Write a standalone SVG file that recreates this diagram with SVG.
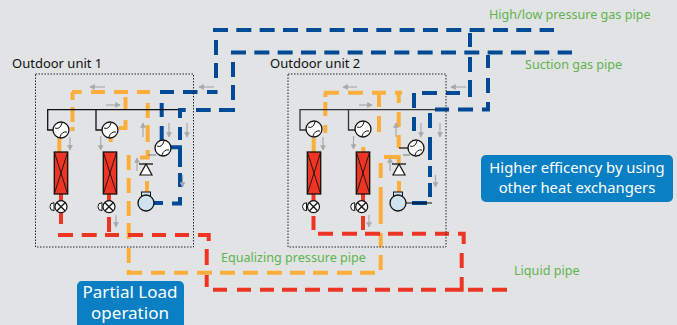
<svg xmlns="http://www.w3.org/2000/svg" width="677" height="325" viewBox="0 0 677 325">
<style>
text{font-family:"Noto Sans","Open Sans",sans-serif}
.g{fill:#5fb34f;font-size:12.6px}
.k{fill:#111;font-size:13px}
.w{fill:#fff;text-anchor:middle}
.box{fill:none;stroke:#222;stroke-width:1;stroke-dasharray:1.5 1.5}
.p{fill:none;stroke-width:4;stroke-linejoin:miter}
.b{stroke:#004a97}
.y{stroke:#fbae3a}
.r{stroke:#ee3524}
.dash{stroke-dasharray:15 8.33}
.ln{fill:none;stroke:#111;stroke-width:1.3}
.ar{fill:none;stroke:#a9a9a9;stroke-width:1.2}
.hx{fill:#ee3524;stroke:#111;stroke-width:1.3}
</style>
<defs>
<marker id="ah" markerWidth="5" markerHeight="5" refX="4" refY="2.5" orient="auto"><path d="M0 0L4.5 2.5L0 5z" fill="#a9a9a9"/></marker>
<g id="ball"><circle r="8" fill="#fff" stroke="#111" stroke-width="1.3"/><path d="M-6 -2Q-1 0 1 -7M-1 7Q1 1 6 2" fill="none" stroke="#111" stroke-width="1"/></g>
<g id="valve"><path d="M-7 -4A4 4 0 0 0 -7 4z" fill="#fff" stroke="#111"/><circle r="6" fill="#fff" stroke="#111" stroke-width="1.2"/><path d="M-4 -4L4 4M-4 4L4 -4" stroke="#111" stroke-width="1.3"/></g>
<g id="hxs"><rect x="-6.7" y="0" width="13.4" height="42" class="hx"/><path d="M-6.7 0L6.7 42M6.7 0L-6.7 42" stroke="#111" stroke-width="0.9"/></g>
<g id="chk"><path d="M-7 -6H7" stroke="#111" stroke-width="1.3"/><path d="M0 -6L6 5H-6z" fill="#fff" stroke="#111" stroke-width="1.2"/></g>
<g id="comp"><rect x="-4.500" y="-11" width="9" height="5" fill="#cfe2f0" stroke="#111"/><circle r="8" fill="#cfe2f0" stroke="#111" stroke-width="1.3"/></g>
</defs>
<rect width="677" height="325" fill="#e2e3e5"/>
<g id="connectors">
<path class="p b dash" d="M213 30H554M231 52.5H572"/>
<path class="p b" d="M216 78V63M216 55V40M216 32V30M217.500 92H207M197.500 92H183M174 92H160M161.700 103V117M161.700 126V140M233 62V77M233 85V100M233 108V110H219M210.700 110H196M185.700 110H178M180 110V118M180 127V140M171 147.300H180V167M180 173V187M180 197V203.500H172M163 203H153"/>
<path class="p b" d="M470 33V47M470 57V72M470 80V95H472M460 93H446M437 93H422M414 93V108M414 117V131M488 55V68M488 78V93M488 102V109.500H482M473 109.500H458M449 109.500H435M430 113V128M430 137V160M430 166V177M430 183V197"/>
<path d="M412 203H427" stroke="#004a97" stroke-width="4" fill="none"/>
<path class="p y" d="M72 92H81.700M72.500 92V100M91 92H105M114 92H128M137 92H150M72.500 107V122M72.500 127V131M125.500 97V110M125.500 120V128H119M147.700 103V118M147.700 125V142M147.700 150V157.500H140M147 181V192M59.300 138V152M110.700 138V142M128.700 155V170M128.700 178V193M128.700 201V216M128.700 223V239M128.700 248V263M128.700 270V275"/>
<path class="p y" d="M127 272.700H142M151 272.700H165M174 272.700H188M197 272.700H212M220 272.700H235M243 272.700H258M267 272.700H282M290 272.700H305M313 272.700H328M337 272.700H352M360 272.700H375M380.700 270V255M380.700 247V233M380.700 224V187M380.700 178V163"/>
<path class="p y" d="M324 92.700H339M348 92.700H363M372 92.700H386M395 92.700H402M325.300 92.700V97M325.300 102V116M325.300 125V133M379 93V107M379 116V132M398.700 93V103M398.700 112V127M398.700 135V148M313.700 138V152M363.300 147V152M384 157H398.700V163M399 181V192"/>
<path class="p r" d="M61 194V201M109 194V201M61 213V224M109 217V232M58 235H73M81.700 235H96.700M105 235H119M128 235H143M152 235H166M175 235H189M198 235H208.700V241M206.700 249V265M206.700 275V287M213 289.700H227M237 289.700H251M260 289.700H274M282 289.700H297M305 289.700H320M328 289.700H343M352 289.700H367M375 289.700H390M398 289.700H413M421 289.700H436M445 289.700H460M468 289.700H483M492 289.700H507"/>
<path class="p r" d="M313.500 194V201M363 194V201M313.500 216V230M363 216V230M318 233.700H333M342 233.700H357M365 233.700H380M388 233.700H403M412 233.700H426M435 233.700H449M458 233.700H463.700V244M461.700 253V268M461.700 277V291.700"/>
</g>
<g id="unit-1">
<rect class="box" x="35.500" y="74" width="158" height="173"/>
<path class="ln" d="M178 109.700H47.700V130H56M96 109.700V130H104"/>
<use href="#ball" x="61" y="130"/><use href="#ball" x="110" y="130"/><use href="#ball" x="163" y="148"/>
<path d="M148 155H156" stroke="#777" stroke-width="1"/>
<use href="#hxs" x="61" y="152"/><use href="#hxs" x="110" y="152"/>
<use href="#valve" x="61" y="206.700"/><use href="#valve" x="109" y="206.700"/>
<use href="#chk" x="146" y="170"/>
<use href="#comp" x="146" y="203"/>
</g>
<g id="unit-2">
<rect class="box" x="288" y="74" width="158" height="173"/>
<path class="ln" d="M436 109.700H300V130H309M348.500 109.700V130H357M399 148H408" style="stroke:#333"/>
<use href="#ball" x="314" y="129"/><use href="#ball" x="363" y="129"/><use href="#ball" x="416" y="148"/>
<path d="M403 155H410" stroke="#777" stroke-width="1"/>
<use href="#hxs" x="314" y="152"/><use href="#hxs" x="363" y="152"/>
<use href="#valve" x="313.500" y="206.700"/><use href="#valve" x="361.700" y="206.700"/>
<use href="#chk" x="399" y="170"/>
<use href="#comp" x="398" y="203"/>
<path d="M406 203H432" stroke="#111" stroke-width="1"/>
</g>
<g id="flow-arrows">
<path class="ar" marker-end="url(#ah)" d="M105 87H90"/>
<path class="ar" marker-end="url(#ah)" d="M106 105H120"/>
<path class="ar" marker-end="url(#ah)" d="M214 87H199"/>
<path class="ar" marker-end="url(#ah)" d="M70 137V150"/>
<path class="ar" marker-end="url(#ah)" d="M100.700 136V150"/>
<path class="ar" marker-end="url(#ah)" d="M143 137V123"/>
<path class="ar" marker-end="url(#ah)" d="M137 171V158"/>
<path class="ar" marker-end="url(#ah)" d="M169 123V137"/>
<path class="ar" marker-end="url(#ah)" d="M187 123V137"/>
<path class="ar" marker-end="url(#ah)" d="M182.500 175V187"/>
<path class="ar" marker-end="url(#ah)" d="M116 215V227"/>
<path class="ar" marker-end="url(#ah)" d="M357 87H343"/>
<path class="ar" marker-end="url(#ah)" d="M359 105H372"/>
<path class="ar" marker-end="url(#ah)" d="M466 87H451"/>
<path class="ar" marker-end="url(#ah)" d="M323 137V150"/>
<path class="ar" marker-end="url(#ah)" d="M353.500 136V149"/>
<path class="ar" marker-end="url(#ah)" d="M396 137V123"/>
<path class="ar" marker-end="url(#ah)" d="M390 171V158"/>
<path class="ar" marker-end="url(#ah)" d="M421 123V137"/>
<path class="ar" marker-end="url(#ah)" d="M440 123V137"/>
<path class="ar" marker-end="url(#ah)" d="M435.500 175V187"/>
<path class="ar" marker-end="url(#ah)" d="M369 215V227"/>
</g>
<g id="labels">
<text class="k" x="12" y="68">Outdoor unit 1</text>
<text class="k" x="270" y="68">Outdoor unit 2</text>
<text class="g" x="489" y="19">High/low pressure gas pipe</text>
<text class="g" x="525" y="69">Suction gas pipe</text>
<text class="g" x="221" y="262">Equalizing pressure pipe</text>
<text class="g" x="514" y="275">Liquid pipe</text>
</g>
<g id="note-partial-load">
<rect x="77" y="281" width="107" height="50" rx="5" fill="#0a7fc4"/>
<text class="w" x="130" y="298" font-size="17">Partial Load</text>
<text class="w" x="130" y="319" font-size="17">operation</text>
</g>
<g id="note-efficiency">
<rect x="481" y="155" width="192" height="47" rx="5" fill="#0a7fc4"/>
<text class="w" x="577" y="173" font-size="14.800">Higher efficency by using</text>
<text class="w" x="577" y="193" font-size="14.800">other heat exchangers</text>
</g>
</svg>
